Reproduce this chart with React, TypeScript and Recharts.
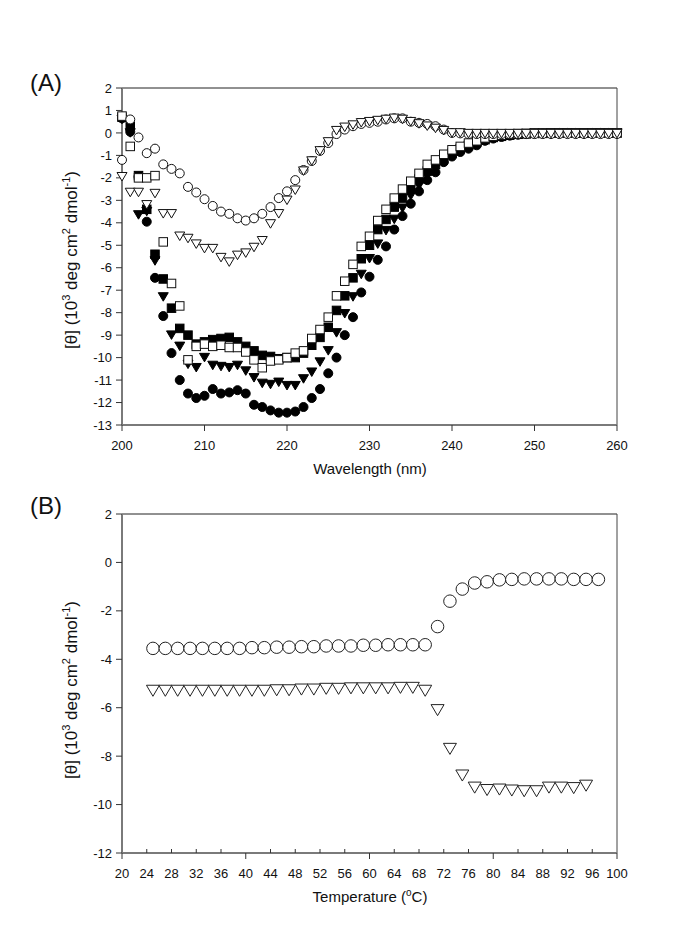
import React from "react";
import { ScatterChart, Scatter, XAxis, YAxis, ReferenceLine } from "recharts";

const FONT = "Arial, 'Liberation Sans', Helvetica, sans-serif";

// ---- Panel A: CD spectra ----
const WAVELENGTHS = [
  200, 201, 202, 203, 204, 205, 206, 207, 208, 209,
  210, 211, 212, 213, 214, 215, 216, 217, 218, 219,
  220, 221, 222, 223, 224, 225, 226, 227, 228, 229,
  230, 231, 232, 233, 234, 235, 236, 237, 238, 239,
  240, 241, 242, 243, 244, 245, 246, 247, 248, 249,
  250, 251, 252, 253, 254, 255, 256, 257, 258, 259, 260,
];

const FILLED_CIRCLE = [
  0.65, 0.05, -1.95, -3.95, -6.45, -8.15, -9.8, -11.0, -11.6, -11.8,
  -11.7, -11.4, -11.6, -11.55, -11.45, -11.6, -12.1, -12.2, -12.35, -12.45,
  -12.45, -12.4, -12.2, -11.8, -11.4, -10.7, -10.0, -9.0, -8.2, -7.1,
  -6.4, -5.65, -5.05, -4.3, -3.7, -3.15, -2.6, -2.1, -1.75, -1.3,
  -1.05, -0.85, -0.7, -0.55, -0.35, -0.25, -0.18, -0.12, -0.08, -0.05,
  -0.03, -0.02, -0.02, 0, 0, 0, 0, 0, 0, 0, 0,
];

const FILLED_SQUARE = [
  0.7, 0.3, -1.9, -3.4, -5.4, -6.5, -7.8, -8.7, -9.0, -9.4,
  -9.3, -9.2, -9.15, -9.1, -9.3, -9.5, -9.7, -9.9, -9.95, -10.05,
  -10.0, -10.0, -9.8, -9.45, -9.1, -8.65, -7.9, -7.25, -6.45, -5.6,
  -5.0, -4.3, -3.85, -3.3, -2.9, -2.5, -2.05, -1.7, -1.4, -1.15,
  -0.9, -0.7, -0.55, -0.4, -0.3, -0.2, -0.15, -0.1, -0.06, -0.04,
  -0.02, -0.02, 0, 0, 0, 0, 0, 0, 0, 0, 0,
];

const FILLED_TRIANGLE = [
  0.6, 0.0, -3.65, -3.5, -5.7, -7.3, -9.0, -9.5, -10.3, -10.45,
  -10.0, -10.35, -10.4, -10.45, -10.35, -10.6, -10.9, -11.15, -11.2, -11.1,
  -11.25, -11.25, -10.95, -10.65, -10.2, -9.7, -8.9, -8.05, -7.3, -6.3,
  -5.6, -4.95, -4.35, -3.85, -3.35, -2.8, -2.35, -1.9, -1.55, -1.25,
  -1.0, -0.75, -0.6, -0.45, -0.32, -0.22, -0.15, -0.1, -0.06, -0.04,
  -0.02, -0.02, 0, 0, 0, 0, 0, 0, 0, 0, 0,
];

const OPEN_SQUARE = [
  0.75, -0.6, -2.0, -2.0, -1.9, -4.85, -6.7, -7.7, -10.1, -9.5,
  -9.4, -9.5, -9.45, -9.55, -9.55, -9.75, -10.1, -10.45, -10.15, -10.1,
  -10.0, -9.8, -9.7, -9.15, -8.75, -8.2, -7.25, -6.6, -5.85, -5.05,
  -4.6, -3.9, -3.4, -2.9, -2.5, -2.15, -1.8, -1.4, -1.2, -0.95,
  -0.75, -0.6, -0.45, -0.35, -0.22, -0.15, -0.1, -0.06, -0.03, -0.02,
  0, 0, 0, 0, 0, 0, 0, 0, 0, 0, 0,
];

const OPEN_CIRCLE = [
  -1.2, 0.6, -0.2, -0.9, -0.7, -1.4, -1.6, -1.8, -2.4, -2.65,
  -2.95, -3.25, -3.5, -3.6, -3.8, -3.9, -3.8, -3.6, -3.3, -2.9,
  -2.6, -2.1, -1.65, -1.25, -0.8, -0.45, -0.05, 0.15, 0.3, 0.4,
  0.45, 0.5, 0.6, 0.65, 0.65, 0.5, 0.45, 0.4, 0.3, 0.15,
  0.0, -0.02, -0.05, -0.05, -0.05, -0.05, -0.05, -0.05, -0.05, -0.05,
  -0.05, -0.05, -0.05, -0.05, -0.05, -0.05, -0.05, -0.05, -0.05, -0.05, -0.05,
];

const OPEN_TRIANGLE = [
  -1.95, -2.65, -2.65, -3.2, -2.7, -3.6, -3.6, -4.6, -4.7, -4.95,
  -5.15, -5.15, -5.55, -5.75, -5.45, -5.35, -5.1, -4.8, -4.05, -3.6,
  -3.0, -2.55, -1.7, -1.25, -0.8, -0.4, 0.1, 0.25, 0.35, 0.45,
  0.5, 0.55, 0.6, 0.65, 0.6, 0.5, 0.4, 0.3, 0.2, 0.1,
  0.0, 0.0, -0.03, -0.03, -0.03, -0.03, -0.03, -0.03, -0.03, -0.03,
  -0.03, -0.03, -0.03, -0.03, -0.03, -0.03, -0.03, -0.03, -0.03, -0.03, -0.03,
];

const A_X_TICKS = [200, 210, 220, 230, 240, 250, 260];
const A_Y_TICKS = [2, 1, 0, -1, -2, -3, -4, -5, -6, -7, -8, -9, -10, -11, -12, -13];

// ---- Panel B: thermal melt ----
const TEMPERATURES = [
  25, 27, 29, 31, 33, 35, 37, 39, 41, 43, 45, 47, 49, 51, 53, 55, 57, 59, 61,
  63, 65, 67, 69, 71, 73, 75, 77, 79, 81, 83, 85, 87, 89, 91, 93, 95, 97,
];

const MELT_CIRCLE = [
  -3.55, -3.55, -3.55, -3.55, -3.55, -3.55, -3.55, -3.55, -3.52, -3.52,
  -3.5, -3.5, -3.48, -3.48, -3.45, -3.45, -3.45, -3.42, -3.42,
  -3.4, -3.4, -3.4, -3.4, -2.65, -1.6, -1.1, -0.85, -0.8, -0.72,
  -0.7, -0.68, -0.68, -0.68, -0.68, -0.7, -0.7, -0.7,
];

const MELT_TRIANGLE = [
  -5.3, -5.3, -5.3, -5.3, -5.3, -5.3, -5.3, -5.3, -5.3, -5.3,
  -5.28, -5.28, -5.25, -5.25, -5.22, -5.22, -5.2, -5.2, -5.2,
  -5.2, -5.18, -5.18, -5.3, -6.1, -7.7, -8.8, -9.3, -9.4, -9.38,
  -9.42, -9.45, -9.45, -9.3, -9.3, -9.32, -9.22,
];

const B_X_TICKS = [20, 24, 28, 32, 36, 40, 44, 48, 52, 56, 60, 64, 68, 72, 76, 80, 84, 88, 92, 96, 100];
const B_Y_TICKS = [2, 0, -2, -4, -6, -8, -10, -12];

const toPoints = (xs: number[], ys: number[]) => ys.map((y, i) => ({ x: xs[i], y }));

type Kind = "circle" | "square" | "tri";

const marker = (kind: Kind, size: number, fill: string, stroke: string) => (props: any) => {
  const { cx, cy } = props;
  if (cx == null || cy == null) return <g />;
  const h = size / 2;
  if (kind === "circle") {
    return <circle cx={cx} cy={cy} r={h} fill={fill} stroke={stroke} strokeWidth={1} />;
  }
  if (kind === "square") {
    return <rect x={cx - h} y={cy - h} width={size} height={size} fill={fill} stroke={stroke} strokeWidth={1} />;
  }
  const th = size * 0.85;
  const pts = `${cx - h},${cy - th / 2} ${cx + h},${cy - th / 2} ${cx},${cy + th / 2}`;
  return <polygon points={pts} fill={fill} stroke={stroke} strokeWidth={1} strokeLinejoin="miter" />;
};

const xTick = (isMajor: (v: number) => boolean) => (props: any) => {
  const { x, y, payload } = props;
  const major = isMajor(payload.value);
  return (
    <g>
      <line x1={x} x2={x} y1={y} y2={major ? y + 6 : y - 4} stroke="#333" strokeWidth={1} />
      <text x={x} y={y + 25} textAnchor="middle" fontSize={13} fill="#111" fontFamily={FONT}>
        {payload.value}
      </text>
    </g>
  );
};

const yAxisCommon = {
  type: "number" as const,
  dataKey: "y",
  width: 60,
  tickSize: 6,
  tickMargin: 4,
  interval: 0 as const,
  tick: { fontSize: 13, fill: "#111", fontFamily: FONT },
  tickLine: { stroke: "#333" },
  axisLine: { stroke: "#7a7a7a", strokeWidth: 2 },
};

const xAxisCommon = {
  type: "number" as const,
  dataKey: "x",
  tickSize: 0,
  tickMargin: 0,
  tickLine: false,
  interval: 0 as const,
  axisLine: { stroke: "#7a7a7a", strokeWidth: 2 },
};

function PanelA() {
  return (
    <ScatterChart width={685} height={480} margin={{ top: 88, right: 68, bottom: 25, left: 62 }}>
      <XAxis {...xAxisCommon} domain={[200, 260]} ticks={A_X_TICKS} tick={xTick(() => true)} />
      <YAxis {...yAxisCommon} domain={[-13, 2]} ticks={A_Y_TICKS} />
      <ReferenceLine y={2} stroke="#222" strokeWidth={1} />
      <ReferenceLine x={260} stroke="#444" strokeWidth={1} />
      <Scatter data={toPoints(WAVELENGTHS, FILLED_CIRCLE)} shape={marker("circle", 9, "#000", "#000")} isAnimationActive={false} />
      <Scatter data={toPoints(WAVELENGTHS, FILLED_SQUARE)} shape={marker("square", 8.5, "#000", "#000")} isAnimationActive={false} />
      <Scatter data={toPoints(WAVELENGTHS, FILLED_TRIANGLE)} shape={marker("tri", 10, "#000", "#000")} isAnimationActive={false} />
      <Scatter data={toPoints(WAVELENGTHS, OPEN_SQUARE)} shape={marker("square", 8.5, "#fff", "#111")} isAnimationActive={false} />
      <Scatter data={toPoints(WAVELENGTHS, OPEN_CIRCLE)} shape={marker("circle", 9, "#fff", "#111")} isAnimationActive={false} />
      <Scatter data={toPoints(WAVELENGTHS, OPEN_TRIANGLE)} shape={marker("tri", 10, "#fff", "#111")} isAnimationActive={false} />
    </ScatterChart>
  );
}

function PanelB() {
  return (
    <ScatterChart width={685} height={465} margin={{ top: 34, right: 68, bottom: 62, left: 62 }}>
      <XAxis
        {...xAxisCommon}
        domain={[20, 100]}
        ticks={B_X_TICKS}
        tick={xTick((v) => v % 20 === 0)}
      />
      <YAxis {...yAxisCommon} domain={[-12, 2]} ticks={B_Y_TICKS} />
      <ReferenceLine y={2} stroke="#222" strokeWidth={1} />
      <ReferenceLine x={100} stroke="#444" strokeWidth={1} />
      <Scatter data={toPoints(TEMPERATURES, MELT_CIRCLE)} shape={marker("circle", 12.5, "#fff", "#222")} isAnimationActive={false} />
      <Scatter data={toPoints(TEMPERATURES, MELT_TRIANGLE)} shape={marker("tri", 13, "#fff", "#222")} isAnimationActive={false} />
    </ScatterChart>
  );
}

const YTitle = ({ x, y }: { x: number; y: number }) => (
  <text transform={`translate(${x},${y}) rotate(-90)`} textAnchor="middle" fontSize={17} fill="#111" fontFamily={FONT}>
    [θ] (10
    <tspan fontSize={11} dy={-7}>3</tspan>
    <tspan dy={7}> deg cm</tspan>
    <tspan fontSize={11} dy={-7}>2</tspan>
    <tspan dy={7}> dmol</tspan>
    <tspan fontSize={11} dy={-7}>-1</tspan>
    <tspan dy={7}>)</tspan>
  </text>
);

export default function App() {
  return (
    <div style={{ position: "absolute", left: 0, top: 0, width: 685, height: 945, background: "#fff" }}>
      <div style={{ position: "absolute", left: 0, top: 0 }}>
        <PanelA />
      </div>
      <div style={{ position: "absolute", left: 0, top: 480 }}>
        <PanelB />
      </div>
      <svg
        width={685}
        height={945}
        style={{ position: "absolute", left: 0, top: 0, pointerEvents: "none" }}
      >
        <text x={30} y={91} fontSize={24} fill="#111" fontFamily={FONT}>(A)</text>
        <text x={30} y={514} fontSize={24} fill="#111" fontFamily={FONT}>(B)</text>
        <text x={370} y={474} textAnchor="middle" fontSize={15} fill="#111" fontFamily={FONT}>
          Wavelength (nm)
        </text>
        <text x={370} y={902} textAnchor="middle" fontSize={15} fill="#111" fontFamily={FONT}>
          Temperature (
          <tspan fontSize={10} dy={-6}>o</tspan>
          <tspan dy={6}>C)</tspan>
        </text>
        <YTitle x={77} y={260} />
        <YTitle x={77} y={690} />
      </svg>
    </div>
  );
}
